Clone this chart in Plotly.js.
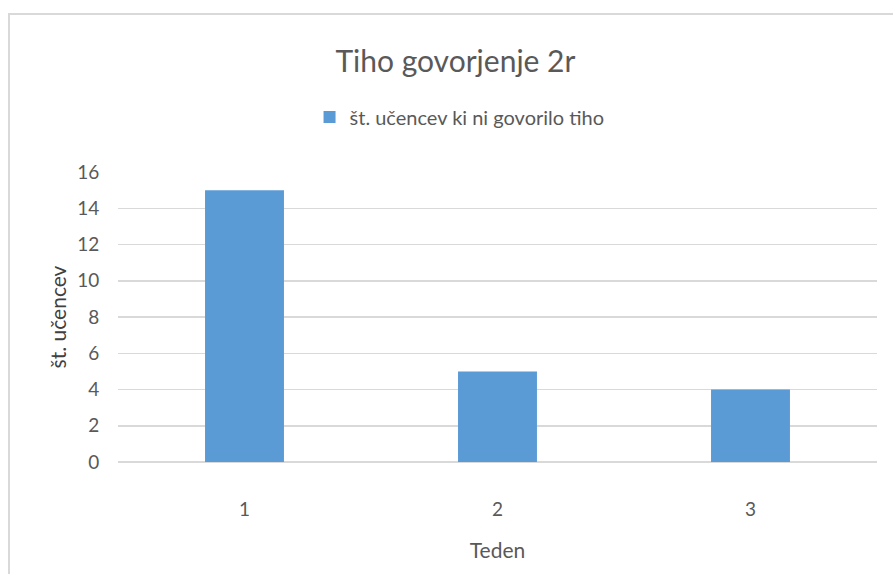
<!DOCTYPE html>
<html><head><meta charset="utf-8">
<script src="https://cdn.plot.ly/plotly-3.0.1.min.js"></script>
<style>
html,body{margin:0;padding:0;background:#fff;overflow:hidden;}
#frame{position:absolute;left:8px;top:13px;width:900px;height:600px;border:2px solid #d9d9d9;box-sizing:border-box;}
#chart{position:absolute;left:0;top:0;width:893px;height:574px;}
</style></head>
<body>
<div id="frame"></div>
<div id="chart"></div>
<script>
const categories = ['1', '2', '3'];
const values = [15, 5, 4];
const seriesName = 'št. učencev ki ni govorilo tiho';
const yTicks = [0, 2, 4, 6, 8, 10, 12, 14, 16];

const font = 'Lato, "Open Sans", sans-serif';
Plotly.newPlot('chart', [{
  type: 'bar', x: categories, y: values, name: seriesName,
  marker: {color: '#5b9bd5'}, showlegend: true
}], {
  width: 893, height: 574,
  paper_bgcolor: 'rgba(0,0,0,0)', plot_bgcolor: 'rgba(0,0,0,0)',
  margin: {l: 118, r: 16, t: 172, b: 112},
  font: {family: font, color: '#595959', size: 19},
  title: {text: 'Tiho govorjenje 2r', font: {size: 30, color: '#595959', family: font}, x: 0.51, xanchor: 'center', y: 0.892, yanchor: 'middle'},
  bargap: 0.688,
  showlegend: true,
  legend: {orientation: 'h', x: 0.45, xanchor: 'center', y: 1.19, yanchor: 'middle', font: {size: 20, color: '#595959'}},
  xaxis: {type: 'category', tickfont: {size: 19}, showgrid: false, zeroline: false, showline: false,
    ticks: 'outside', ticklen: 30, tickcolor: 'rgba(0,0,0,0)',
    title: {text: 'Teden', font: {size: 21, color: '#595959'}, standoff: 24}},
  yaxis: {range: [0, 16], tickvals: yTicks, showgrid: true, gridcolor: '#d9d9d9', gridwidth: 1.5,
    zeroline: true, zerolinecolor: '#d9d9d9', zerolinewidth: 1.5,
    ticks: 'outside', ticklen: 14, tickcolor: 'rgba(0,0,0,0)', tickfont: {size: 19},
    title: {text: 'št. učencev', font: {size: 21, color: '#404040'}, standoff: 4}}
}, {displayModeBar: false, staticPlot: true});
</script>
</body></html>
